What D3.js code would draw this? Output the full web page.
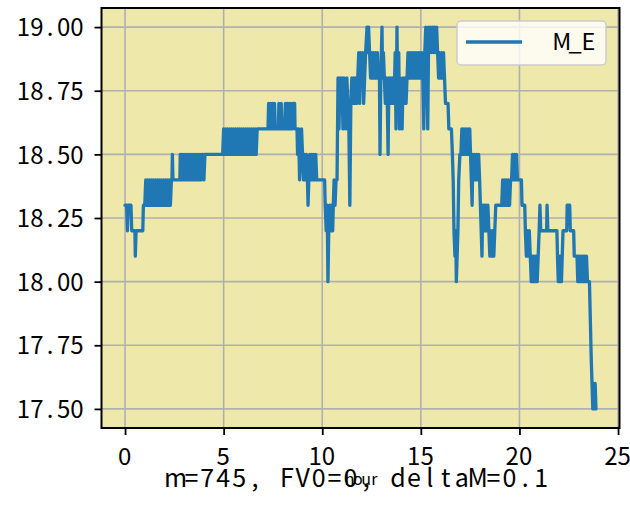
<!DOCTYPE html>
<html><head><meta charset="utf-8">
<script src="https://cdn.jsdelivr.net/npm/d3@7"></script>
<style>
html,body{margin:0;padding:0;background:#fff;}
svg{display:block;}
.tk{font-family:"Noto Sans CJK JP","Noto Sans CJK SC","DejaVu Sans",sans-serif;}
</style></head>
<body><svg id="c" width="630" height="508"></svg>
<script>
// ---- data ----
const hour = [
0,0.08,0.12,0.16,0.3,0.34,0.4,0.5,0.52,0.56,0.9,0.93,1.0,
1.05,1.1,1.15,1.2,1.25,1.3,1.35,1.4,1.45,1.5,1.55,1.6,1.65,1.7,1.75,1.8,1.85,1.9,1.95,2.0,2.05,2.1,2.15,2.2,2.25,2.3,2.35,
2.38,2.4,2.43,2.78,
2.8,2.85,2.9,2.95,3.0,3.05,3.1,3.15,3.2,3.25,3.3,3.35,3.4,3.45,3.5,3.55,3.6,3.65,3.7,3.75,3.8,
3.85,3.9,3.95,4.0,4.05,4.95,
5.0,5.05,5.1,5.15,5.2,5.25,5.3,5.35,5.4,5.45,5.5,5.55,5.6,5.65,5.7,5.75,5.8,5.85,5.9,5.95,6.0,6.05,6.1,6.15,6.2,6.25,6.3,6.35,6.4,6.45,6.5,6.55,6.6,6.65,6.7,
7.25,7.28,7.33,7.38,7.43,7.48,7.53,7.58,7.62,7.78,7.8,7.88,7.92,7.96,8.1,8.13,8.18,8.23,8.28,8.33,8.38,8.43,8.48,8.53,8.6,8.62,8.72,
8.75,8.8,8.85,8.9,8.95,9.0,9.05,9.1,9.15,9.2,9.25,9.28,9.32,9.37,9.42,9.47,9.52,9.57,9.62,9.67,9.72,10.12,10.15,10.2,10.25,10.29,10.33,10.38,10.43,10.48,10.53,10.56,10.6,10.65,10.7,10.75,
10.8,10.85,10.9,10.95,11.0,11.05,11.1,11.15,11.2,11.25,11.3,11.35,11.4,11.45,11.5,11.55,11.6,11.65,11.7,11.75,11.8,
11.85,11.9,11.95,12.0,12.05,12.1,12.15,12.2,
12.27,12.3,12.35,12.4,12.45,12.5,12.55,12.6,12.65,12.7,12.75,12.8,12.85,12.9,12.93,12.97,13.03,13.06,13.1,13.15,13.2,13.25,13.3,13.34,13.38,13.42,13.47,13.52,13.57,13.62,13.67,
13.7,13.74,13.79,13.83,13.88,13.92,13.96,14.0,14.05,14.1,14.15,14.2,14.25,14.3,14.35,14.4,14.45,14.5,14.55,14.6,14.65,14.7,14.75,14.8,14.85,14.9,14.95,15.0,15.05,15.1,
15.15,15.2,15.25,15.3,15.35,15.4,15.45,15.5,15.55,15.6,15.65,15.7,15.75,15.8,15.85,15.9,15.95,16.0,16.05,16.1,16.15,16.2,
16.25,16.38,16.42,16.55,16.6,16.64,16.68,16.73,16.77,16.8,16.84,16.88,16.92,16.98,17.03,17.08,17.13,17.18,17.23,17.28,17.33,17.38,17.43,17.48,
17.52,17.56,17.6,17.64,17.68,17.73,17.78,17.83,17.88,17.93,17.98,18.02,18.06,18.1,18.14,18.18,18.22,18.26,18.3,18.35,18.4,18.45,18.5,18.55,18.6,18.65,18.7,18.75,18.8,19.1,
19.15,19.2,19.25,19.3,19.35,19.4,19.45,19.5,19.55,19.6,19.65,19.7,19.75,19.8,19.85,19.9,20.1,20.13,20.27,20.3,20.35,20.4,20.45,20.5,20.55,20.6,20.65,20.7,20.75,20.8,20.85,20.9,20.95,21.0,
21.04,21.08,21.38,21.4,21.44,21.9,21.93,21.97,22.01,22.05,22.09,22.13,22.17,22.21,22.4,22.42,22.55,22.58,22.75,22.78,22.92,22.96,23.0,23.05,23.1,23.15,23.2,23.25,23.3,23.35,23.4,23.45,23.55,23.58,23.61,23.64,23.68,23.72,23.76,23.8,23.84,23.88
];
const M_E = [
18.3,18.3,18.2,18.3,18.3,18.2,18.2,18.2,18.1,18.2,18.2,18.3,18.3,
18.4,18.3,18.4,18.3,18.4,18.3,18.4,18.3,18.4,18.3,18.4,18.3,18.4,18.3,18.4,18.3,18.4,18.3,18.4,18.3,18.4,18.3,18.4,18.3,18.4,18.3,18.4,
18.4,18.5,18.4,18.4,
18.5,18.4,18.5,18.4,18.5,18.4,18.5,18.4,18.5,18.4,18.5,18.4,18.5,18.4,18.5,18.4,18.5,18.4,18.5,18.4,18.5,
18.4,18.5,18.5,18.4,18.5,18.5,
18.6,18.5,18.6,18.5,18.6,18.5,18.6,18.5,18.6,18.5,18.6,18.5,18.6,18.5,18.6,18.5,18.6,18.5,18.6,18.5,18.6,18.5,18.6,18.5,18.6,18.5,18.6,18.5,18.6,18.5,18.6,18.5,18.6,18.5,18.6,
18.6,18.7,18.6,18.7,18.6,18.7,18.6,18.7,18.6,18.6,18.7,18.6,18.7,18.6,18.6,18.7,18.6,18.7,18.6,18.7,18.6,18.7,18.6,18.7,18.7,18.6,18.6,
18.5,18.6,18.4,18.5,18.6,18.5,18.4,18.5,18.4,18.5,18.4,18.3,18.4,18.5,18.4,18.5,18.4,18.5,18.4,18.5,18.4,18.4,18.3,18.2,18.3,18.0,18.2,18.3,18.2,18.3,18.2,18.3,18.4,18.3,18.4,18.4,
18.8,18.6,18.8,18.7,18.8,18.6,18.8,18.7,18.6,18.8,18.7,18.6,18.3,18.7,18.8,18.7,18.8,18.7,18.8,18.7,18.8,
18.9,18.7,18.9,18.8,18.9,18.7,18.8,18.9,
19.0,18.9,19.0,18.9,18.8,18.9,18.8,18.9,18.8,18.9,18.8,18.9,18.8,18.8,18.5,18.8,19.0,18.8,18.9,18.8,18.7,18.8,18.7,18.5,18.8,18.7,18.8,18.7,18.8,18.7,18.8,
18.9,18.6,19.0,18.7,18.9,18.6,18.8,18.7,18.6,18.8,18.7,18.8,18.7,18.8,18.9,18.8,18.9,18.8,18.9,18.8,18.9,18.8,18.9,18.8,18.9,18.8,18.9,18.8,18.9,18.8,
18.6,18.9,19.0,18.9,18.6,19.0,18.9,19.0,18.9,19.0,18.9,19.0,18.9,19.0,18.9,18.8,18.9,18.8,18.9,18.8,18.9,18.8,
18.7,18.7,18.6,18.6,18.5,18.4,18.2,18.1,18.2,18.0,18.1,18.2,18.4,18.5,18.5,18.6,18.5,18.6,18.5,18.6,18.5,18.6,18.5,18.6,
18.5,18.4,18.3,18.5,18.4,18.5,18.4,18.5,18.4,18.5,18.4,18.3,18.2,18.1,18.3,18.2,18.3,18.2,18.3,18.2,18.3,18.2,18.1,18.2,18.1,18.2,18.1,18.2,18.3,18.3,
18.4,18.3,18.4,18.3,18.4,18.3,18.4,18.3,18.4,18.4,18.5,18.4,18.5,18.4,18.5,18.4,18.4,18.3,18.3,18.2,18.1,18.2,18.1,18.2,18.1,18.0,18.1,18.0,18.1,18.0,18.1,18.0,18.1,18.2,
18.3,18.2,18.2,18.3,18.2,18.2,18.1,18.0,18.1,18.0,18.1,18.0,18.1,18.2,18.2,18.3,18.3,18.2,18.2,18.1,18.1,18.0,18.1,18.0,18.1,18.0,18.1,18.0,18.1,18.0,18.1,18.0,18.0,17.9,17.8,17.7,17.6,17.5,17.6,17.5,17.6,17.5
];
const xTicks = [0, 5, 10, 15, 20, 25];
const yTicks = [17.5, 17.75, 18.0, 18.25, 18.5, 18.75, 19.0];
const seriesName = "M_E";
const xLabel = "hour";
const noteText = "m=745, FV0=0, deltaM=0.1";

// ---- layout ----
const L = 101.5, R = 619.5, T = 8, B = 428;
const svg = d3.select("#c");
const xMax = d3.max(hour), xMin = d3.min(hour);
const yMin = d3.min(M_E), yMax = d3.max(M_E);
const xPad = (xMax - xMin) * 0.05, yPad = (yMax - yMin) * 0.05;
const x = d3.scaleLinear().domain([xMin - xPad, xMax + xPad]).range([L, R]);
const y = d3.scaleLinear().domain([yMin - yPad, yMax + yPad]).range([B, T]);

// monospace-cell text: each character centred in its own cell
function cells(sel, str, firstCenter, cw) {
  const xs = Array.from(str, (c, i) => (firstCenter + i * cw).toFixed(2));
  sel.attr("x", xs.join(" ")).attr("text-anchor", "middle").text(str);
}

svg.append("rect").attr("x", L).attr("y", T).attr("width", R - L).attr("height", B - T).attr("fill", "#eee8aa");

// grid
const g = svg.append("g");
g.selectAll(".gx").data(xTicks).join("line")
  .attr("x1", d => x(d)).attr("x2", d => x(d)).attr("y1", T).attr("y2", B)
  .attr("stroke", "#b0b0b0").attr("stroke-width", 1.6);
g.selectAll(".gy").data(yTicks).join("line")
  .attr("y1", d => y(d)).attr("y2", d => y(d)).attr("x1", L).attr("x2", R)
  .attr("stroke", "#b0b0b0").attr("stroke-width", 1.6);

// line
const pts = hour.map((h, i) => [h, M_E[i]]);
svg.append("path").datum(pts)
  .attr("d", d3.line().x(d => x(d[0])).y(d => y(d[1])))
  .attr("fill", "none").attr("stroke", "#1f77b4").attr("stroke-width", 3.3)
  .attr("stroke-linejoin", "round").attr("stroke-linecap", "round");

// axes
const CW = 13.4;
const xAxis = svg.append("g").attr("transform", `translate(0,${B})`)
  .call(d3.axisBottom(x).tickValues(xTicks).tickSize(7).tickPadding(6).tickFormat(d3.format("d")));
const yAxis = svg.append("g").attr("transform", `translate(${L},0)`)
  .call(d3.axisLeft(y).tickValues(yTicks).tickSize(7).tickPadding(12).tickFormat(d3.format(".2f")));
[xAxis, yAxis].forEach(a => {
  a.select(".domain").remove();
  a.selectAll(".tick line").attr("stroke", "#000").attr("stroke-width", 1.8);
  a.selectAll(".tick text").attr("class", "tk").attr("fill", "#000").attr("font-size", 24);
});
xAxis.selectAll(".tick text").each(function() {
  const s = d3.select(this), str = s.text();
  cells(s, str, -((str.length - 1) / 2) * CW - 1, CW);
  s.attr("y", 37).attr("dy", 0);
});
yAxis.selectAll(".tick text").each(function() {
  const s = d3.select(this), str = s.text();
  cells(s, str, -24.5 - (str.length - 1) * CW, CW);
  s.attr("dy", "0.36em");
});

// spines
svg.append("rect").attr("x", L).attr("y", T).attr("width", R - L).attr("height", B - T)
  .attr("fill", "none").attr("stroke", "#000").attr("stroke-width", 2);

// legend
const lg = svg.append("g");
lg.append("rect").attr("x", 457).attr("y", 21).attr("width", 149).attr("height", 44).attr("rx", 4)
  .attr("fill", "#fff").attr("fill-opacity", 0.8).attr("stroke", "#cccccc").attr("stroke-width", 1.5);
lg.append("line").attr("x1", 466).attr("x2", 522).attr("y1", 42).attr("y2", 42)
  .attr("stroke", "#1f77b4").attr("stroke-width", 3.3);
cells(lg.append("text").attr("class", "tk").attr("y", 42).attr("dy", "0.36em")
  .attr("font-size", 23.5).attr("fill", "#000"), seriesName, 561.7, CW);

// x label and note
cells(svg.append("text").attr("class", "tk").attr("y", 485)
  .attr("font-size", 16).attr("fill", "#000"), xLabel, 349.5, 8.3);
cells(svg.append("text").attr("class", "tk").attr("y", 487)
  .attr("font-size", 25).attr("fill", "#000"), noteText, 175.5, 15.9);
</script></body></html>
